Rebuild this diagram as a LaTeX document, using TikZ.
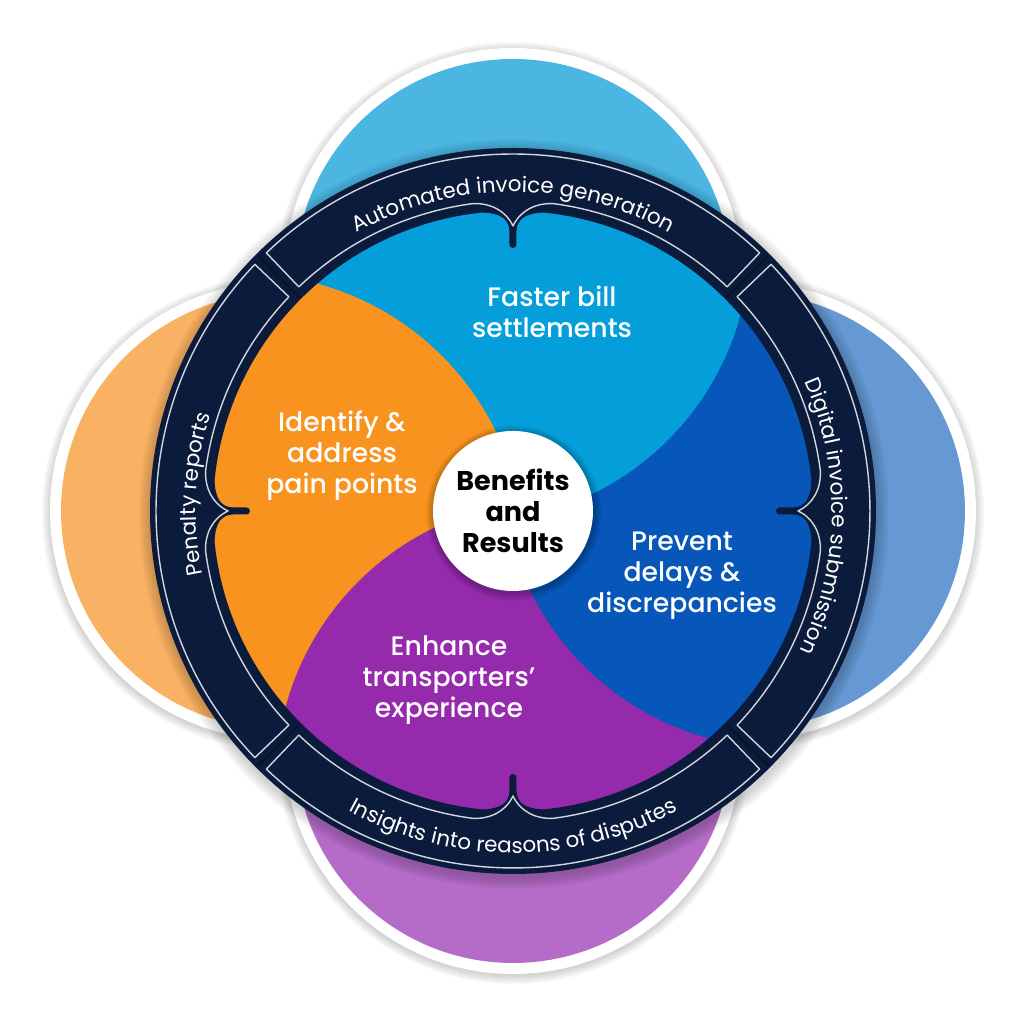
\documentclass[tikz,border=0pt]{standalone}
\usepackage{fontspec}
\setmainfont{Poppins}
\newfontfamily\segfont{Poppins}[UprightFont={* Medium}, BoldFont={* Bold}]
\usetikzlibrary{decorations.text}
\definecolor{ringnavy}{HTML}{0B1B3B}
\definecolor{skyin}{HTML}{049FDA}
\definecolor{royalin}{HTML}{0657B9}
\definecolor{violetin}{HTML}{952AAD}
\definecolor{orangein}{HTML}{F7931E}
\definecolor{skyout}{HTML}{4BB6E2}
\definecolor{royalout}{HTML}{6699D4}
\definecolor{violetout}{HTML}{B46CC8}
\definecolor{orangeout}{HTML}{F9B263}
\definecolor{boxline}{HTML}{D2D5DC}

\begin{document}
\begin{tikzpicture}[line join=round,
  segtext/.style={text=white, align=center, font=\segfont\fontsize{7.6}{8.8}\selectfont},
  ringtext/.style={decorate, decoration={text along path, text align=center, text color=white,
    text={|\fontsize{6.1}{7}\selectfont|#1}}},
  boxedge/.style={draw=boxline, line width=0.4pt}]
  \useasboundingbox (-5.13,-5.09) rectangle (5.11,5.11);
  \coordinate (ptop) at (0,2.34);
  \coordinate (pright) at (2.34,0);
  \coordinate (pbottom) at (0,-2.34);
  \coordinate (pleft) at (-2.34,0);
  \foreach \p/\col in {pright/royalout, pleft/orangeout, pbottom/violetout, ptop/skyout} {
    \foreach \k in {1,...,5}
      \fill[black, opacity=0.035, shift={(\p)}] (0,-0.02) circle ({2.28+0.018*\k});
    \fill[white] (\p) circle (2.29);
    \fill[\col] (\p) circle (2.18);
  }
  \foreach \k in {1,...,6}
    \fill[black, opacity=0.03] (0.01,-0.03) circle ({3.63+0.02*\k});
  \begin{scope}
    \clip (0,0) circle (3.02);
    \fill[royalin] (0,0) circle (3.02);
    \fill[skyin] (-0.43,2.69) circle (2.80);
    \fill[orangein] (-2.69,-0.43) circle (2.80);
    \fill[violetin] (0.43,-2.69) circle (2.80);
    \clip (0,0) -- (9:4) -- (-40:5) -- (-100:4) -- cycle;
    \fill[royalin] (2.69,0.43) circle (2.80);
  \end{scope}
  \fill[ringnavy, even odd rule] (0,0) circle (3.63) (0,0) circle (3.0);
  \foreach \rot in {0,90,180,270} {
    \begin{scope}[rotate=\rot]
      \fill[ringnavy] (-0.30,3.05) -- (-0.30,2.985) .. controls (-0.12,2.975) and (-0.04,2.92) .. (-0.035,2.80)
        -- (-0.035,2.665) arc[start angle=180, end angle=360, radius=0.035] -- (0.035,2.80)
        .. controls (0.04,2.92) and (0.12,2.975) .. (0.30,2.985) -- (0.30,3.05) -- cycle;
      \draw[boxedge] (46.3:3.57) arc[start angle=46.3, end angle=133.7, radius=3.57] -- (133.7:3.10)
        arc[start angle=133.7, end angle=97.4, radius=3.10] .. controls (-0.22,3.08) and (-0.07,3.0) .. (0,2.85)
        .. controls (0.07,3.0) and (0.22,3.08) .. (82.6:3.10) arc[start angle=82.6, end angle=46.3, radius=3.10] -- cycle;
      \draw[black, opacity=0.25, line width=0.6pt] (45:3.02) -- (45:3.61);
    \end{scope}
  }
  \path[ringtext={Automated invoice generation}] (150:3.19) arc[start angle=150, end angle=30, radius=3.19];
  \path[ringtext={Digital invoice submission}] (59:3.19) arc[start angle=59, end angle=-61, radius=3.19];
  \path[ringtext={Insights into reasons of disputes}] (210:3.42) arc[start angle=210, end angle=330, radius=3.42];
  \path[ringtext={Penalty reports}] (237:3.17) arc[start angle=237, end angle=117, radius=3.17];
  \foreach \k in {1,...,5}
    \fill[black, opacity=0.05] (0.01,-0.02) circle ({0.80+0.015*\k});
  \node[circle, fill=white, minimum size=1.6cm, inner sep=0pt, align=center,
    font=\segfont\fontsize{7.7}{8.8}\selectfont\bfseries] (hub) at (0,0) {Benefits\\and\\Results};
  \node[segtext] (faster) at (0.39,1.99) {Faster bill\\settlements};
  \node[segtext] (identify) at (-1.71,0.55) {Identify \&\\address\\pain points};
  \node[segtext] (prevent) at (1.69,-0.65) {Prevent\\delays \&\\discrepancies};
  \node[segtext] (enhance) at (-0.64,-1.69) {Enhance\\transporters’\\experience};
\end{tikzpicture}
\end{document}
